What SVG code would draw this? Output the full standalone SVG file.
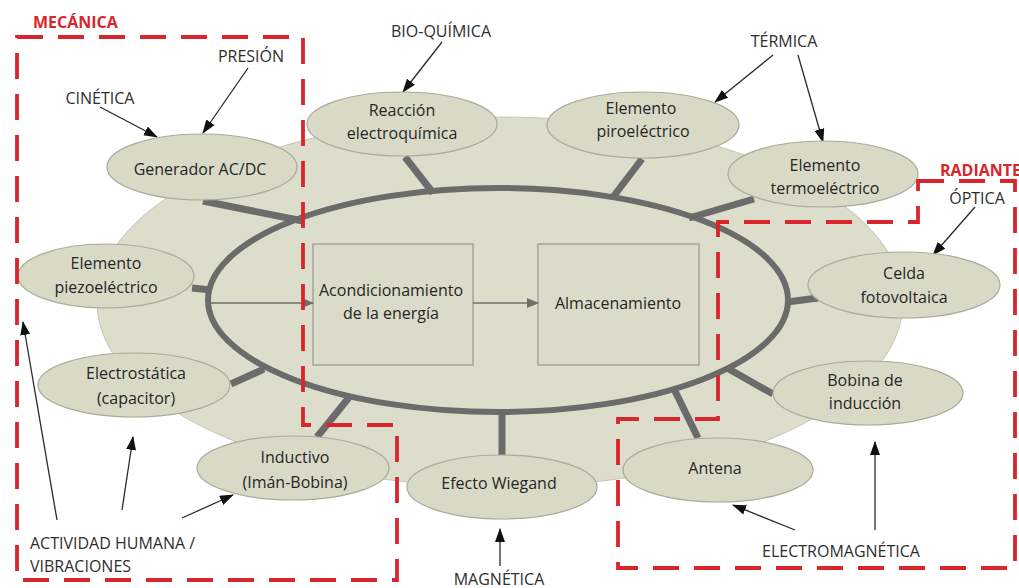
<svg xmlns="http://www.w3.org/2000/svg" width="1019" height="588" viewBox="0 0 1019 588">
<style>
.node ellipse{fill:#d9dac6;stroke:#a9aa9a;stroke-width:1.2}
text{font-family:"Open Sans","Liberation Sans",sans-serif;font-size:16px;fill:#262626}
.c{text-anchor:middle}
.lbl{fill:#2e2e2e}
.red{fill:#d8262c;font-weight:bold}
.spoke{stroke:#6b6b6b;stroke-width:7;fill:none}
.arr{stroke:#2a2a2a;stroke-width:1.3;fill:none;marker-end:url(#ah)}
.region{fill:none;stroke:#d8262c;stroke-width:3.8;stroke-dasharray:26 15}
.box{fill:#dadbc8;stroke:#9c9c92;stroke-width:1.3}
</style>
<defs>
<marker id="ah" markerUnits="userSpaceOnUse" markerWidth="14" markerHeight="10" refX="13" refY="5" orient="auto">
<path d="M0,0 L14,5 L0,10 z" fill="#111"/>
</marker>
<marker id="gh" markerUnits="userSpaceOnUse" markerWidth="12" markerHeight="10" refX="11" refY="5" orient="auto">
<path d="M0,0 L12,5 L0,10 z" fill="#6f6f6a"/>
</marker>
</defs>
<rect width="1019" height="588" fill="#ffffff"/>
<g id="blob">
<ellipse cx="500" cy="302" rx="403" ry="185" fill="#dcddca" stroke="#c4c5b4" stroke-width="1"/>
</g>
<g id="ring">
<ellipse cx="498" cy="300" rx="290" ry="112" fill="none" stroke="#6b6b6b" stroke-width="6"/>
</g>
<g id="box-acond">
<rect class="box" x="313" y="244" width="160" height="121"/>
<text class="c" x="391" y="296">Acondicionamiento</text>
<text class="c" x="391" y="319">de la energía</text>
</g>
<g id="box-almac">
<rect class="box" x="538" y="244" width="161" height="121"/>
<text class="c" x="618" y="309">Almacenamiento</text>
</g>
<g id="connectors">
<line class="spoke" x1="203" y1="201" x2="303" y2="221"/>
<line class="spoke" x1="405" y1="157" x2="433" y2="193"/>
<line class="spoke" x1="642" y1="159" x2="613" y2="197"/>
<line class="spoke" x1="754" y1="199" x2="689" y2="218"/>
<line class="spoke" x1="192" y1="288" x2="211" y2="290"/>
<line class="spoke" x1="231" y1="384" x2="264" y2="369"/>
<line class="spoke" x1="317" y1="437" x2="351" y2="395"/>
<line class="spoke" x1="502" y1="455" x2="502" y2="411"/>
<line class="spoke" x1="698" y1="438" x2="674" y2="389"/>
<line class="spoke" x1="773" y1="394" x2="727" y2="368"/>
<line class="spoke" x1="818" y1="298" x2="787" y2="302"/>
<line x1="211" y1="303" x2="313" y2="303" stroke="#6f6f6a" stroke-width="1.6" marker-end="url(#gh)"/>
<line x1="473" y1="303" x2="538" y2="303" stroke="#6f6f6a" stroke-width="1.6" marker-end="url(#gh)"/>
<line class="arr" x1="100" y1="107" x2="157" y2="137"/>
<line class="arr" x1="248" y1="68" x2="203" y2="133"/>
<line class="arr" x1="442" y1="42" x2="403" y2="92"/>
<line class="arr" x1="773" y1="55" x2="715" y2="102"/>
<line class="arr" x1="798" y1="55" x2="823" y2="142"/>
<line class="arr" x1="975" y1="207" x2="933" y2="255"/>
<line class="arr" x1="57" y1="520" x2="23" y2="322"/>
<line class="arr" x1="122" y1="510" x2="133" y2="437"/>
<line class="arr" x1="182" y1="518" x2="233" y2="495"/>
<line class="arr" x1="500" y1="566" x2="500" y2="529"/>
<line class="arr" x1="795" y1="530" x2="733" y2="505"/>
<line class="arr" x1="875" y1="530" x2="875" y2="442"/>
</g>
<g id="n-generador" class="node">
<ellipse cx="202" cy="167" rx="95" ry="33"/>
<text class="c" x="200" y="175">Generador AC/DC</text>
</g>
<g id="n-reaccion" class="node">
<ellipse cx="402" cy="124" rx="95" ry="32"/>
<text class="c" x="402" y="116">Reacción</text>
<text class="c" x="402" y="139">electroquímica</text>
</g>
<g id="n-piro" class="node">
<ellipse cx="643" cy="125" rx="96" ry="33"/>
<text class="c" x="641" y="114">Elemento</text>
<text class="c" x="643" y="137">piroeléctrico</text>
</g>
<g id="n-termo" class="node">
<ellipse cx="823" cy="174" rx="95" ry="33"/>
<text class="c" x="825" y="171">Elemento</text>
<text class="c" x="825" y="194">termoeléctrico</text>
</g>
<g id="n-piezo" class="node">
<ellipse cx="106" cy="276" rx="88" ry="32"/>
<text class="c" x="106" y="269">Elemento</text>
<text class="c" x="106" y="293">piezoeléctrico</text>
</g>
<g id="n-electrostatica" class="node">
<ellipse cx="134" cy="385" rx="96" ry="32"/>
<text class="c" x="136" y="379">Electrostática</text>
<text class="c" x="136" y="404">(capacitor)</text>
</g>
<g id="n-inductivo" class="node">
<ellipse cx="293" cy="468" rx="96" ry="32"/>
<text class="c" x="295" y="463">Inductivo</text>
<text class="c" x="295" y="488">(Imán-Bobina)</text>
</g>
<g id="n-wiegand" class="node">
<ellipse cx="502" cy="487" rx="95" ry="32"/>
<text class="c" x="499" y="489">Efecto Wiegand</text>
</g>
<g id="n-antena" class="node">
<ellipse cx="718" cy="470" rx="95" ry="32"/>
<text class="c" x="715" y="474">Antena</text>
</g>
<g id="n-bobina" class="node">
<ellipse cx="868" cy="393" rx="95" ry="32"/>
<text class="c" x="865" y="386">Bobina de</text>
<text class="c" x="865" y="409">inducción</text>
</g>
<g id="n-celda" class="node">
<ellipse cx="904" cy="285" rx="96" ry="33"/>
<text class="c" x="904" y="279">Celda</text>
<text class="c" x="904" y="303">fotovoltaica</text>
</g>
<g id="labels">
<text class="lbl c" x="251" y="62">PRESIÓN</text>
<text class="lbl c" x="100" y="104">CINÉTICA</text>
<text class="lbl c" x="441" y="37">BIO-QUÍMICA</text>
<text class="lbl c" x="784" y="47">TÉRMICA</text>
<text class="lbl c" x="977" y="204">ÓPTICA</text>
<text class="lbl" x="30" y="549">ACTIVIDAD HUMANA /</text>
<text class="lbl" x="30" y="572">VIBRACIONES</text>
<text class="lbl c" x="499" y="585">MAGNÉTICA</text>
<text class="lbl c" x="841" y="557">ELECTROMAGNÉTICA</text>
</g>
<g id="region-mecanica">
<polygon class="region" points="17,37 303,37 303,425 397,425 397,580 17,580"/>
<text class="red" x="33" y="28">MECÁNICA</text>
</g>
<g id="region-radiante">
<polygon class="region" points="918,181 1015,181 1015,568 618,568 618,419 718,419 718,222 918,222"/>
<text class="red" x="940" y="176">RADIANTE</text>
</g>
</svg>
